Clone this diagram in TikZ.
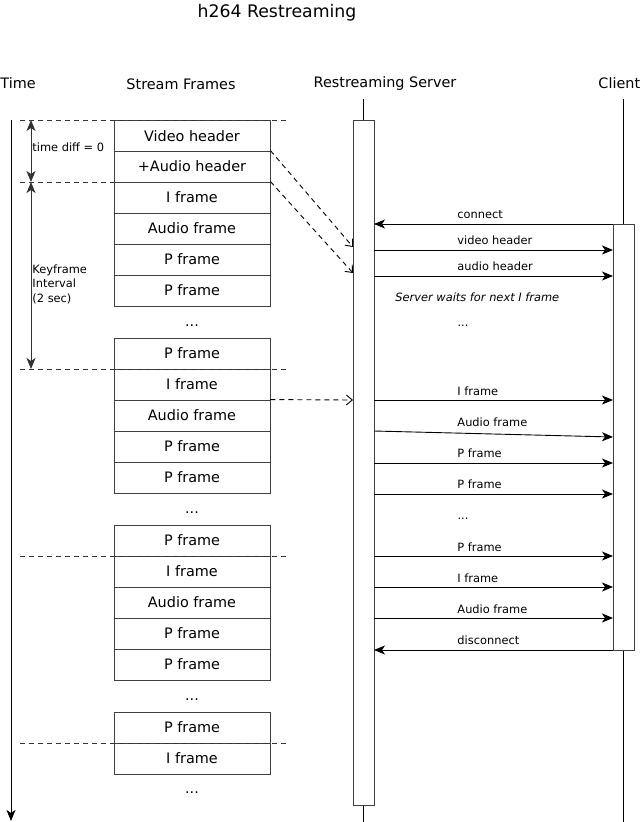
\documentclass[tikz,border=0pt]{standalone}
\usepackage{fontspec}
\setmainfont{DejaVu Sans}
\usetikzlibrary{arrows.meta}
\begin{document}
\begin{tikzpicture}[x=1pt,y=-1pt,line width=0.9pt,
  bigtxt/.style={font=\fontsize{14.4}{16}\selectfont},
  smalltxt/.style={font=\fontsize{11.4}{14.5}\selectfont},
  frm/.style={draw=black!75, fill=white, minimum width=156pt, minimum height=31pt, inner sep=0pt, bigtxt},
  actbox/.style={draw=black!75, fill=white, minimum width=21pt, inner sep=0pt},
  sep/.style={draw=black!80, dash pattern=on 5pt off 4pt},
  msg/.style={draw=black, -{Stealth[length=11pt,width=9pt,inset=3pt]}},
  dasharr/.style={draw=black, dash pattern=on 5pt off 4pt, -{Straight Barb[length=6pt,width=10pt]}},
  dbl/.style={draw=black!80, {Stealth[length=11pt,width=9pt,inset=3pt]}-{Stealth[length=11pt,width=9pt,inset=3pt]}},
  mlabel/.style={anchor=west, inner sep=0pt, smalltxt}]
\useasboundingbox (0,0) rectangle (640,822);

% title and headers
\node[font=\fontsize{17.3}{20}\selectfont] (title) at (277,13) {h264 Restreaming};
\node[bigtxt, anchor=west, inner sep=0pt] (hTime) at (0,83) {Time};
\node[bigtxt] (hFrames) at (181,84) {Stream Frames};
\node[bigtxt] (hServer) at (385,84) {Restreaming Server};
\node[bigtxt, anchor=west, inner sep=0pt] (hClient) at (598,83) {Client};

% lifelines and activation boxes
\coordinate (srvTop) at (363.5,99);
\coordinate (srvBot) at (363.5,822);
\coordinate (clTop) at (623.5,99);
\coordinate (clBot) at (623.5,822);
\draw[black] (srvTop) -- (srvBot);
\draw[black] (clTop) -- (clBot);
\node[actbox, minimum height=685pt] (srv) at (363.5,462.5) {};
\node[actbox, minimum height=426pt] (cl) at (623.5,437) {};

% time axis
\coordinate (tTop) at (11,120);
\coordinate (tBot) at (11,821);
\draw[black, -{Stealth[length=11pt,width=9pt,inset=3pt]}] (tTop) -- (tBot);

% separators
\coordinate (s1a) at (20,120);  \coordinate (s1b) at (287,120);
\coordinate (s2a) at (20,182);  \coordinate (s2b) at (114,182);
\coordinate (s3a) at (20,369);  \coordinate (s3b) at (287,369);
\coordinate (s4a) at (20,556);  \coordinate (s4b) at (287,556);
\coordinate (s5a) at (20,743);  \coordinate (s5b) at (287,743);

% frames group 1
\node[frm] (f1) at (192,136) {Video header};
\node[frm] (f2) at (192,166.5) {+Audio header};
\node[frm] (f3) at (192,197.5) {I frame};
\node[frm] (f4) at (192,228.5) {Audio frame};
\node[frm] (f5) at (192,259.5) {P frame};
\node[frm] (f6) at (192,290.5) {P frame};
\node[bigtxt] (d1) at (192,326) {...};
% group 2
\node[frm] (g1) at (192,353.5) {P frame};
\node[frm] (g2) at (192,384.5) {I frame};
\node[frm] (g3) at (192,415.5) {Audio frame};
\node[frm] (g4) at (192,446.5) {P frame};
\node[frm] (g5) at (192,477.5) {P frame};
\node[bigtxt] (d2) at (192,513) {...};
% group 3
\node[frm] (h1) at (192,540.5) {P frame};
\node[frm] (h2) at (192,571.5) {I frame};
\node[frm] (h3) at (192,602.5) {Audio frame};
\node[frm] (h4) at (192,633.5) {P frame};
\node[frm] (h5) at (192,664.5) {P frame};
\node[bigtxt] (d3) at (192,700) {...};
% group 4
\node[frm] (k1) at (192,727.5) {P frame};
\node[frm] (k2) at (192,758.5) {I frame};
\node[bigtxt] (d4) at (192,793) {...};

\draw[sep] (s1a) -- (s1b);
\draw[sep] (s2a) -- (s2b);
\draw[sep] (s3a) -- (s3b);
\draw[sep] (s4a) -- (s4b);
\draw[sep] (s5a) -- (s5b);

% interval arrows
\coordinate (i1) at (31,120);
\coordinate (i2) at (31,182);
\coordinate (i3) at (31,369);
\draw[dbl] (i1) -- (i2);
\draw[dbl] (i2) -- (i3);
\node[smalltxt, anchor=west, inner sep=0pt] (tdiff) at (32,147) {time diff = 0};
\node[smalltxt, anchor=north west, inner sep=0pt, align=left] (kfi) at (32,264) {Keyframe\\Interval\\(2 sec)};

% dashed arrows to server
\coordinate (e1) at (353,247);
\coordinate (e2) at (353,273);
\coordinate (e3) at (353,400);
\draw[dasharr] (f2.north east) -- (e1);
\draw[dasharr] (f3.north east) -- (e2);
\draw[dasharr] (g3.north east) -- (e3);

% messages
\coordinate (sc) at (374,224); \coordinate (cc) at (613,224);
\draw[msg] (cc) -- (sc);
\node[mlabel] (lc) at (457,214.5) {connect};

\foreach \yy/\yl/\txt/\nm in {250/240.5/video header/m1, 276/266.5/audio header/m2,
   400/391.5/I frame/m3, 463/453.5/P frame/m5, 494/484.5/P frame/m6,
   556/547.5/P frame/m7, 587/578.5/I frame/m8, 618/609.5/Audio frame/m9}{
  \coordinate (s\nm) at (374,\yy);
  \coordinate (c\nm) at (613,\yy);
  \draw[msg] (s\nm) -- (c\nm);
  \node[mlabel] (l\nm) at (457,\yl) {\txt};
}
\coordinate (sm4) at (374,431); \coordinate (cm4) at (613,437);
\draw[msg] (sm4) -- (cm4);
\node[mlabel] (lm4) at (457,422.5) {Audio frame};

\coordinate (sd) at (374,650); \coordinate (cd) at (613,650);
\draw[msg] (cd) -- (sd);
\node[mlabel] (ld) at (457,640.5) {disconnect};

\node[smalltxt, anchor=west, inner sep=0pt, font=\fontsize{11.4}{14}\selectfont\itshape] (wait) at (395,297.5) {Server waits for next I frame};
\node[smalltxt] (md1) at (463,326) {...};
\node[smalltxt] (md2) at (463,519) {...};
\end{tikzpicture}
\end{document}
